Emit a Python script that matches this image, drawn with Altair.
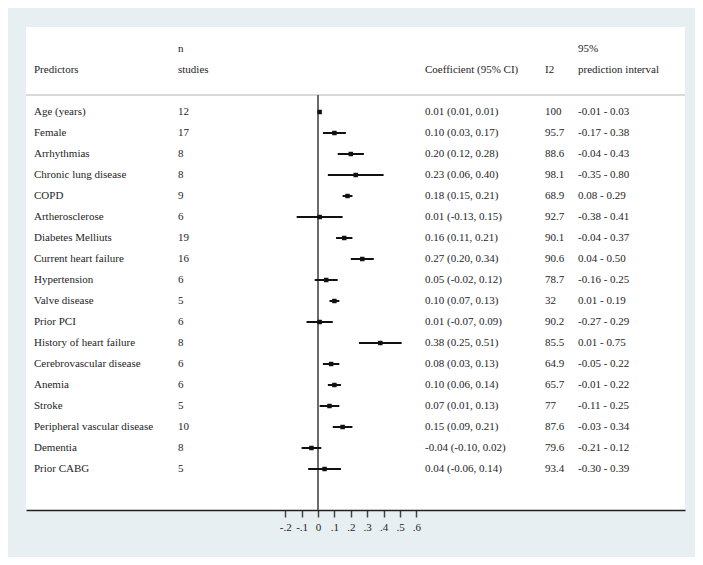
import altair as alt
import pandas as pd

predictors = ["Age (years)", "Female", "Arrhythmias", "Chronic lung disease", "COPD",
              "Artherosclerose", "Diabetes Melliuts", "Current heart failure", "Hypertension",
              "Valve disease", "Prior PCI", "History of heart failure", "Cerebrovascular disease",
              "Anemia", "Stroke", "Peripheral vascular disease", "Dementia", "Prior CABG"]
n_studies = [12, 17, 8, 8, 9, 6, 19, 16, 6, 5, 6, 8, 6, 6, 5, 10, 8, 5]
coef = [0.01, 0.10, 0.20, 0.23, 0.18, 0.01, 0.16, 0.27, 0.05, 0.10, 0.01, 0.38, 0.08, 0.10, 0.07, 0.15, -0.04, 0.04]
ci_lo = [0.01, 0.03, 0.12, 0.06, 0.15, -0.13, 0.11, 0.20, -0.02, 0.07, -0.07, 0.25, 0.03, 0.06, 0.01, 0.09, -0.10, -0.06]
ci_hi = [0.01, 0.17, 0.28, 0.40, 0.21, 0.15, 0.21, 0.34, 0.12, 0.13, 0.09, 0.51, 0.13, 0.14, 0.13, 0.21, 0.02, 0.14]
i2 = [100, 95.7, 88.6, 98.1, 68.9, 92.7, 90.1, 90.6, 78.7, 32, 90.2, 85.5, 64.9, 65.7, 77, 87.6, 79.6, 93.4]
pi_lo = [-0.01, -0.17, -0.04, -0.35, 0.08, -0.38, -0.04, 0.04, -0.16, 0.01, -0.27, 0.01, -0.05, -0.01, -0.11, -0.03, -0.21, -0.30]
pi_hi = [0.03, 0.38, 0.43, 0.80, 0.29, 0.41, 0.37, 0.50, 0.25, 0.19, 0.29, 0.75, 0.22, 0.22, 0.25, 0.34, 0.12, 0.39]
tick_values = [-0.2, -0.1, 0, 0.1, 0.2, 0.3, 0.4, 0.5, 0.6]

df = pd.DataFrame({
    "pred": predictors,
    "n": [str(v) for v in n_studies],
    "coef": coef,
    "lo": ci_lo,
    "hi": ci_hi,
    "ci_text": [f"{c:.2f} ({l:.2f}, {h:.2f})" for c, l, h in zip(coef, ci_lo, ci_hi)],
    "i2": [f"{v:g}" for v in i2],
    "pi_text": [f"{a:.2f} - {b:.2f}" for a, b in zip(pi_lo, pi_hi)],
})

FONT = "Liberation Serif"
FS = 11
TXT = "#1e1e1e"

xscale = alt.Scale(domain=[-292 / 164, 367 / 164], nice=False, zero=False)
yenc = alt.Y("pred:N", sort=predictors, axis=None,
             scale=alt.Scale(type="point", range=[85, 442], padding=0))

base = alt.Chart(df)

ci = base.mark_rule(color="#111111", strokeWidth=2).encode(
    x=alt.X("lo:Q", scale=xscale,
            axis=alt.Axis(title=None, values=tick_values, grid=False,
                          labelExpr="datum.value == 0 ? '0' : replace(replace(format(datum.value, '.1f'), '0.', '.'), '\u2212', '-')",
                          labelFont=FONT, labelFontSize=FS, labelColor=TXT,
                          domainColor="#222222", domainWidth=1.5,
                          tickColor="#444444", tickWidth=1.5, tickSize=7,
                          labelPadding=4, labelFlush=False)),
    x2="hi:Q",
    y=yenc,
)
pts = base.mark_square(color="#111111", size=20, opacity=1).encode(
    x=alt.X("coef:Q", scale=xscale), y=yenc)

zero = alt.Chart(pd.DataFrame({"z": [0]})).mark_rule(color="#6b6b6b", strokeWidth=2).encode(
    x=alt.X("z:Q", scale=xscale), y=alt.value(68), y2=alt.value(483))

sep = alt.Chart(pd.DataFrame({"z": [0]})).mark_rule(color="#d9d9d9", strokeWidth=2).encode(
    x=alt.value(0), x2=alt.value(659), y=alt.value(68))

def col(field, xpos):
    return base.mark_text(align="left", baseline="middle", font=FONT, fontSize=FS, color=TXT).encode(
        x=alt.value(xpos), y=yenc, text=f"{field}:N")

headers = pd.DataFrame({
    "label": ["n", "Predictors", "studies", "Coefficient (95% CI)", "I2", "95%", "prediction interval"],
    "col": [152, 8, 152, 399, 519, 552, 552],
    "row": [22, 43, 43, 43, 43, 22, 43],
})
head = alt.Chart(headers).mark_text(align="left", baseline="middle", font=FONT, fontSize=FS, color=TXT).encode(
    x=alt.X("col:Q", scale=None), y=alt.Y("row:Q", scale=None), text="label:N")

chart = alt.layer(sep, zero, ci, pts, col("pred", 8), col("n", 152), col("ci_text", 399),
                  col("i2", 519), col("pi_text", 552), head).properties(
    width=659, height=483,
    autosize=alt.AutoSizeParams(type="none"),
    padding={"left": 18, "top": 19, "right": 10, "bottom": 47},
    background="#e8eff2",
).configure_view(fill="white", stroke=None)

chart.save("out.html", embed_options={"renderer": "svg", "actions": False})
